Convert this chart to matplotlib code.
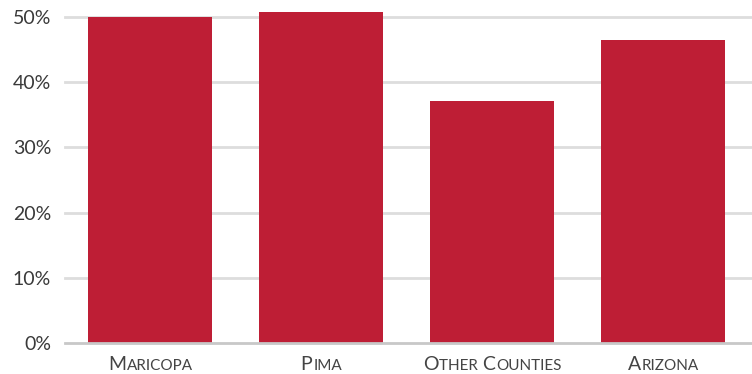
import matplotlib
matplotlib.use("Agg")
import matplotlib.pyplot as plt
import numpy as np
from matplotlib.offsetbox import TextArea, HPacker, AnnotationBbox

# data
counties = ["Maricopa", "Pima", "Other Counties", "Arizona"]
share = [50.0, 50.8, 37.1, 46.5]
yticks = [0, 10, 20, 30, 40, 50]

bar_color = "#BE1E35"
text_color = "#444444"
font = "Lato"


def small_caps(ax, x, label, big=14, small=11):
    # fake small caps: capitals at full size, the rest upper-cased and smaller
    parts = []
    words = label.split(" ")
    for word_i, word in enumerate(words):
        rest = word[1:].upper()
        if word_i < len(words) - 1:
            rest += " "
        parts.append(TextArea(word[0], textprops=dict(size=big, family=font, color=text_color)))
        parts.append(TextArea(rest, textprops=dict(size=small, family=font, color=text_color)))
    box = HPacker(children=parts, align="baseline", pad=0, sep=0.6)
    ab = AnnotationBbox(box, (x, 0), xycoords=("data", "axes fraction"),
                        xybox=(0, -9), boxcoords="offset points",
                        box_alignment=(0.5, 1), frameon=False)
    ax.add_artist(ab)


fig = plt.figure(figsize=(7.52, 3.74), dpi=100)
ax = fig.add_axes([65 / 752, 31 / 374, 687 / 752, 338 / 374])

x = np.arange(len(counties))
ax.bar(x, share, width=0.725, color=bar_color, zorder=3)

ax.set_xlim(-0.5, 3.52)
ax.set_ylim(0, 51.84)
ax.set_yticks(yticks)
ax.set_yticklabels([str(t) + "%" for t in yticks], family=font, size=14,
                   color="#3a3a3a")
ax.set_xticks([])
ax.tick_params(axis="y", length=0, pad=10)

for t in yticks[1:]:
    ax.axhline(t, color="#dddddd", lw=2, zorder=1, clip_on=False)
ax.axhline(0, color="#c8c8c8", lw=2, zorder=4, clip_on=False)

for s in ax.spines.values():
    s.set_visible(False)

for xi, name in zip(x, counties):
    small_caps(ax, xi, name)

fig.savefig("out.png", dpi=100)
